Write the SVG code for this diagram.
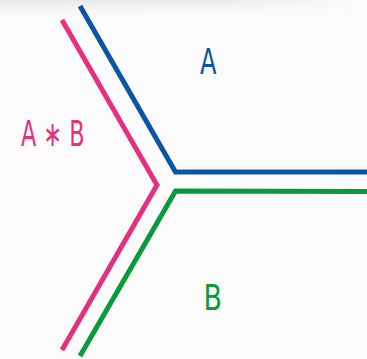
<svg xmlns="http://www.w3.org/2000/svg" width="367" height="359" viewBox="0 0 367 359">
<defs>
<linearGradient id="shade" x1="0" y1="0" x2="0" y2="1">
<stop offset="0" stop-color="#e6e6e6"/>
<stop offset="1" stop-color="#fafafa" stop-opacity="0"/>
</linearGradient>
<linearGradient id="fadeX" x1="0" y1="0" x2="1" y2="0">
<stop offset="0" stop-color="#fff" stop-opacity="1"/>
<stop offset="0.6" stop-color="#fff" stop-opacity="0.8"/>
<stop offset="1" stop-color="#fff" stop-opacity="0"/>
</linearGradient>
<mask id="m"><rect x="0" y="0" width="367" height="20" fill="url(#fadeX)"/></mask>
<style>
.ln{fill:none;stroke-width:5;stroke-linejoin:miter;stroke-linecap:butt}
.lbl{font-family:"DejaVu Sans Condensed","DejaVu Sans",sans-serif;font-size:35px}
</style>
</defs>
<rect width="367" height="359" fill="#fbfbfb"/>
<rect x="0" y="0" width="367" height="20" fill="url(#shade)" mask="url(#m)"/>
<g id="connectors">
<polyline class="ln" stroke="#0a56a0" points="80,6 175.5,172 367,172"/>
<polyline class="ln" stroke="#e5307f" points="62,20 157,185 62,350"/>
<polyline class="ln" stroke="#0a9a3e" points="80,356 175.5,191 367,191.5"/>
</g>
<g id="A"><text class="lbl" x="200" y="73.5" fill="#0a56a0" textLength="16.5" lengthAdjust="spacingAndGlyphs">A</text></g>
<g id="AB"><text class="lbl" x="21" y="145.5" fill="#e5307f" textLength="63.5" lengthAdjust="spacingAndGlyphs">A ∗ B</text></g>
<g id="B"><text class="lbl" x="203.5" y="310" fill="#0a9a3e" textLength="18.5" lengthAdjust="spacingAndGlyphs">B</text></g>
</svg>
